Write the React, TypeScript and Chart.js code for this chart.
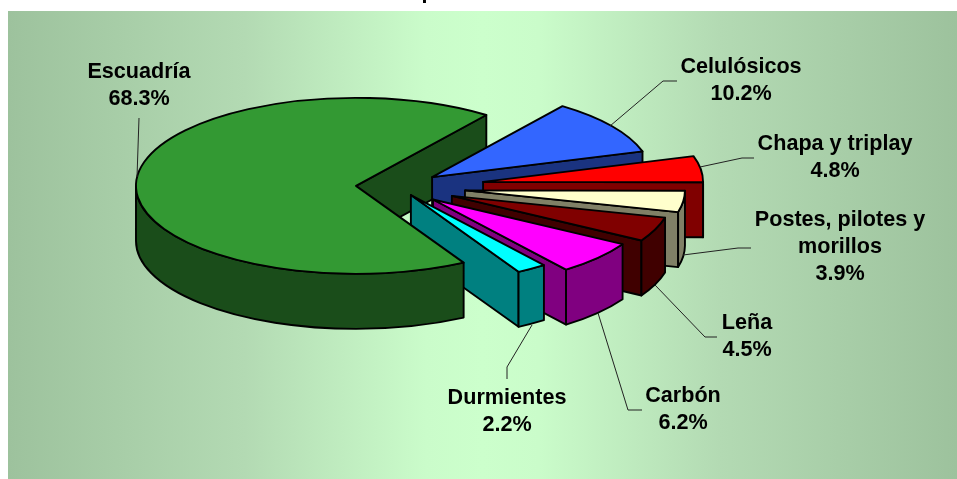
import React, { useEffect, useRef } from "react";
import { Chart, registerables } from "chart.js";

Chart.register(...registerables);

const categories = ["Escuadría", "Celulósicos", "Chapa y triplay", "Postes, pilotes y morillos", "Leña", "Carbón", "Durmientes"];
const shares = [68.3, 10.2, 4.8, 3.9, 4.5, 6.2, 2.2];
const explode = [41.6, 42.4, 86.5, 68, 58.8, 47.5, 24.4];
const topColors = ["#339933", "#3366ff", "#ff0000", "#ffffcc", "#800000", "#ff00ff", "#00ffff"];
const sideColors = ["#1a4d1a", "#1a3380", "#800000", "#808066", "#400000", "#800080", "#008080"];
const labelRows = [["Escuadría"], ["Celulósicos"], ["Chapa y triplay"], ["Postes, pilotes y", "morillos"], ["Leña"], ["Carbón"], ["Durmientes"]];

const labelAnchors = [[139, 78], [741, 73], [835, 150], [840, 226], [747, 329], [683, 402], [507, 404]];
const leaders = [
  [[137, 177], [139, 118]],
  [[610, 126], [663, 81], [677, 81]],
  [[700, 167], [742, 158], [754, 158]],
  [[683, 255], [738, 248], [751, 248]],
  [[655, 285], [705, 337], [717, 337]],
  [[598, 313], [628, 410], [642, 410]],
  [[532, 325], [507, 367], [507, 379]],
];

const TILT = 0.4;
const DEPTH = 55;
const FONT = "bold 21.6px 'Liberation Sans', Arial, sans-serif";
const LINE = 27;

function geometry(el: any) {
  const mid = (el.startAngle + el.endAngle) / 2;
  const off = el.options.offset;
  const ax = el.x + off * Math.cos(mid);
  const ay = el.y + TILT * off * Math.sin(mid);
  return { ax, ay, r: el.outerRadius, a0: el.startAngle, a1: el.endAngle };
}

function fillStroke(ctx: CanvasRenderingContext2D, color: string) {
  ctx.fillStyle = color;
  ctx.fill();
  ctx.stroke();
}

function radialFace(ctx: CanvasRenderingContext2D, g: any, angle: number, color: string) {
  const px = g.ax + g.r * Math.cos(angle);
  const py = g.ay + g.r * TILT * Math.sin(angle);
  ctx.beginPath();
  ctx.moveTo(g.ax, g.ay);
  ctx.lineTo(px, py);
  ctx.lineTo(px, py + DEPTH);
  ctx.lineTo(g.ax, g.ay + DEPTH);
  ctx.closePath();
  fillStroke(ctx, color);
}

function innerFaces(ctx: CanvasRenderingContext2D, g: any, color: string) {
  if (-Math.cos(g.a0) > 0) radialFace(ctx, g, g.a0, color);
  if (Math.cos(g.a1) > 0) radialFace(ctx, g, g.a1, color);
}

function outerWall(ctx: CanvasRenderingContext2D, g: any, color: string) {
  for (let k = -1; k <= 2; k++) {
    const lo = Math.max(g.a0, 2 * Math.PI * k);
    const hi = Math.min(g.a1, Math.PI + 2 * Math.PI * k);
    if (hi <= lo) continue;
    ctx.beginPath();
    ctx.ellipse(g.ax, g.ay, g.r, g.r * TILT, 0, lo, hi);
    ctx.ellipse(g.ax, g.ay + DEPTH, g.r, g.r * TILT, 0, hi, lo, true);
    ctx.closePath();
    fillStroke(ctx, color);
  }
}

function topFace(ctx: CanvasRenderingContext2D, g: any, color: string) {
  ctx.beginPath();
  ctx.moveTo(g.ax, g.ay);
  ctx.ellipse(g.ax, g.ay, g.r, g.r * TILT, 0, g.a0, g.a1);
  ctx.closePath();
  fillStroke(ctx, color);
}

const pie3d = {
  id: "pie3d",
  beforeDraw(chart: any) {
    const { ctx, width, height } = chart;
    const grad = ctx.createLinearGradient(8, 0, width, 0);
    grad.addColorStop(0, "#9dc29d");
    grad.addColorStop(0.25, "#b3dab3");
    grad.addColorStop(0.44, "#caFcca");
    grad.addColorStop(0.5, "#ccffcc");
    grad.addColorStop(0.56, "#caFcca");
    grad.addColorStop(0.75, "#b3dab3");
    grad.addColorStop(1, "#9dc29d");
    ctx.save();
    ctx.fillStyle = "#ffffff";
    ctx.fillRect(0, 0, width, height);
    ctx.fillStyle = grad;
    ctx.fillRect(8, 11, width - 8, height - 11);
    ctx.fillStyle = "#000";
    ctx.font = FONT;
    ctx.textAlign = "center";
    ctx.fillText("p", 428, -2);
    ctx.restore();
  },
  beforeDatasetsDraw(chart: any) {
    const { ctx } = chart;
    const arcs = chart.getDatasetMeta(0).data;
    ctx.save();
    ctx.lineWidth = 1.9;
    ctx.lineJoin = "round";
    ctx.strokeStyle = "#000";
    innerFaces(ctx, geometry(arcs[0]), sideColors[0]);
    for (let i = 1; i < arcs.length; i++) {
      const g = geometry(arcs[i]);
      innerFaces(ctx, g, sideColors[i]);
      outerWall(ctx, g, sideColors[i]);
      topFace(ctx, g, topColors[i]);
    }
    const g0 = geometry(arcs[0]);
    outerWall(ctx, g0, sideColors[0]);
    topFace(ctx, g0, topColors[0]);
    ctx.restore();
    return false;
  },
  afterDraw(chart: any) {
    const { ctx } = chart;
    ctx.save();
    ctx.strokeStyle = "#222";
    ctx.lineWidth = 1;
    leaders.forEach((pts) => {
      ctx.beginPath();
      pts.forEach(([x, y], j) => (j ? ctx.lineTo(x, y) : ctx.moveTo(x, y)));
      ctx.stroke();
    });
    ctx.fillStyle = "#000";
    ctx.font = FONT;
    ctx.textAlign = "center";
    ctx.textBaseline = "alphabetic";
    labelRows.forEach((rows, i) => {
      const [x, y] = labelAnchors[i];
      [...rows, `${shares[i].toFixed(1)}%`].forEach((t, j) => ctx.fillText(t, x, y + j * LINE));
    });
    ctx.restore();
  },
};

export default function App() {
  const ref = useRef<HTMLCanvasElement | null>(null);
  useEffect(() => {
    document.body.style.margin = "0";
    document.body.style.overflow = "hidden";
    const chart = new Chart(ref.current as HTMLCanvasElement, {
      type: "pie",
      data: {
        labels: categories,
        datasets: [{ data: shares, backgroundColor: topColors, borderColor: "#000", borderWidth: 1.9, offset: explode }],
      },
      options: {
        responsive: false,
        animation: false,
        events: [],
        rotation: 150.7,
        radius: 220,
        layout: { padding: { left: 0, top: 0, right: 162, bottom: 105.2 } },
        plugins: { legend: { display: false }, tooltip: { enabled: false }, title: { display: false } },
      },
      plugins: [pie3d],
    } as any);
    return () => chart.destroy();
  }, []);
  return <canvas ref={ref} width={957} height={479} style={{ display: "block" }} />;
}
